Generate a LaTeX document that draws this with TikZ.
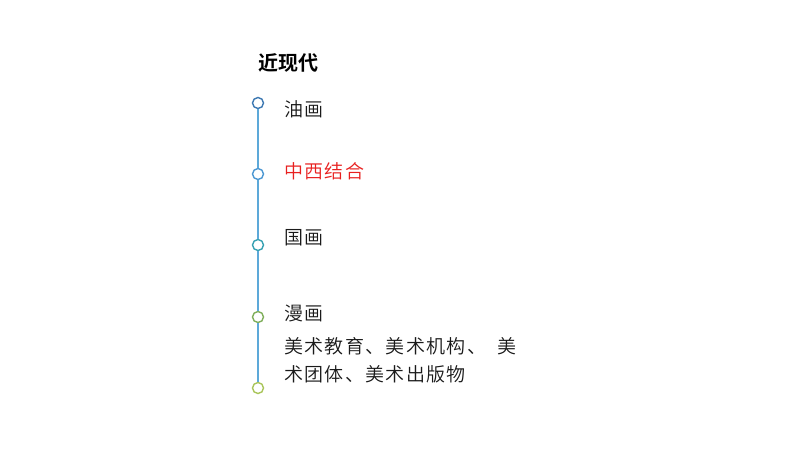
\documentclass[tikz,border=0pt]{standalone}
\usepackage{fontspec}
\newfontfamily\cjk[LetterSpace=7]{Noto Sans CJK SC DemiLight}
\newfontfamily\cjkb[LetterSpace=0]{Noto Sans CJK SC Bold}
\definecolor{lineblue}{HTML}{5DA9D9}
\definecolor{cA}{HTML}{3C78B2}
\definecolor{cB}{HTML}{4B97D2}
\definecolor{cC}{HTML}{35A0B2}
\definecolor{cD}{HTML}{7FAE5A}
\definecolor{cE}{HTML}{A9C55A}
\definecolor{txt}{HTML}{1A1A1A}
\definecolor{redtxt}{HTML}{E8201F}
\begin{document}
\begin{tikzpicture}[x=1pt,y=-1pt,
  dot/.style={circle,draw=#1,line width=1.4pt,fill=white,minimum size=11pt,inner sep=0pt},
  item/.style={anchor=west,inner sep=0pt,font=\cjk\fontsize{19}{28}\selectfont,text=txt,align=left},
  conn/.style={draw=lineblue,line width=1.2pt}]
\useasboundingbox (0,0) rectangle (800,450);
\node[anchor=west,inner sep=0pt,font=\cjkb\fontsize{20}{24}\selectfont,text=black] (title) at (258,63) {近现代};
\node[dot=cA] (d1) at (258,103) {};
\node[dot=cB] (d2) at (258,174) {};
\node[dot=cC] (d3) at (258,245) {};
\node[dot=cD] (d4) at (258,317) {};
\node[dot=cE] (d5) at (258,388) {};
\draw[conn] (d1) -- (d2);
\draw[conn] (d2) -- (d3);
\draw[conn] (d3) -- (d4);
\draw[conn] (d4) -- (d5);
\node[item] (t1) at (284,109) {油画};
\node[item,text=redtxt] (t2) at (284,171) {中西结合};
\node[item] (t3) at (284,238) {国画};
\node[item] (t4) at (284,313) {漫画};
\node[item,anchor=north west] (t5) at (284,337) {美术教育、美术机构、\ \ 美\\术团体、美术出版物};
\end{tikzpicture}
\end{document}
